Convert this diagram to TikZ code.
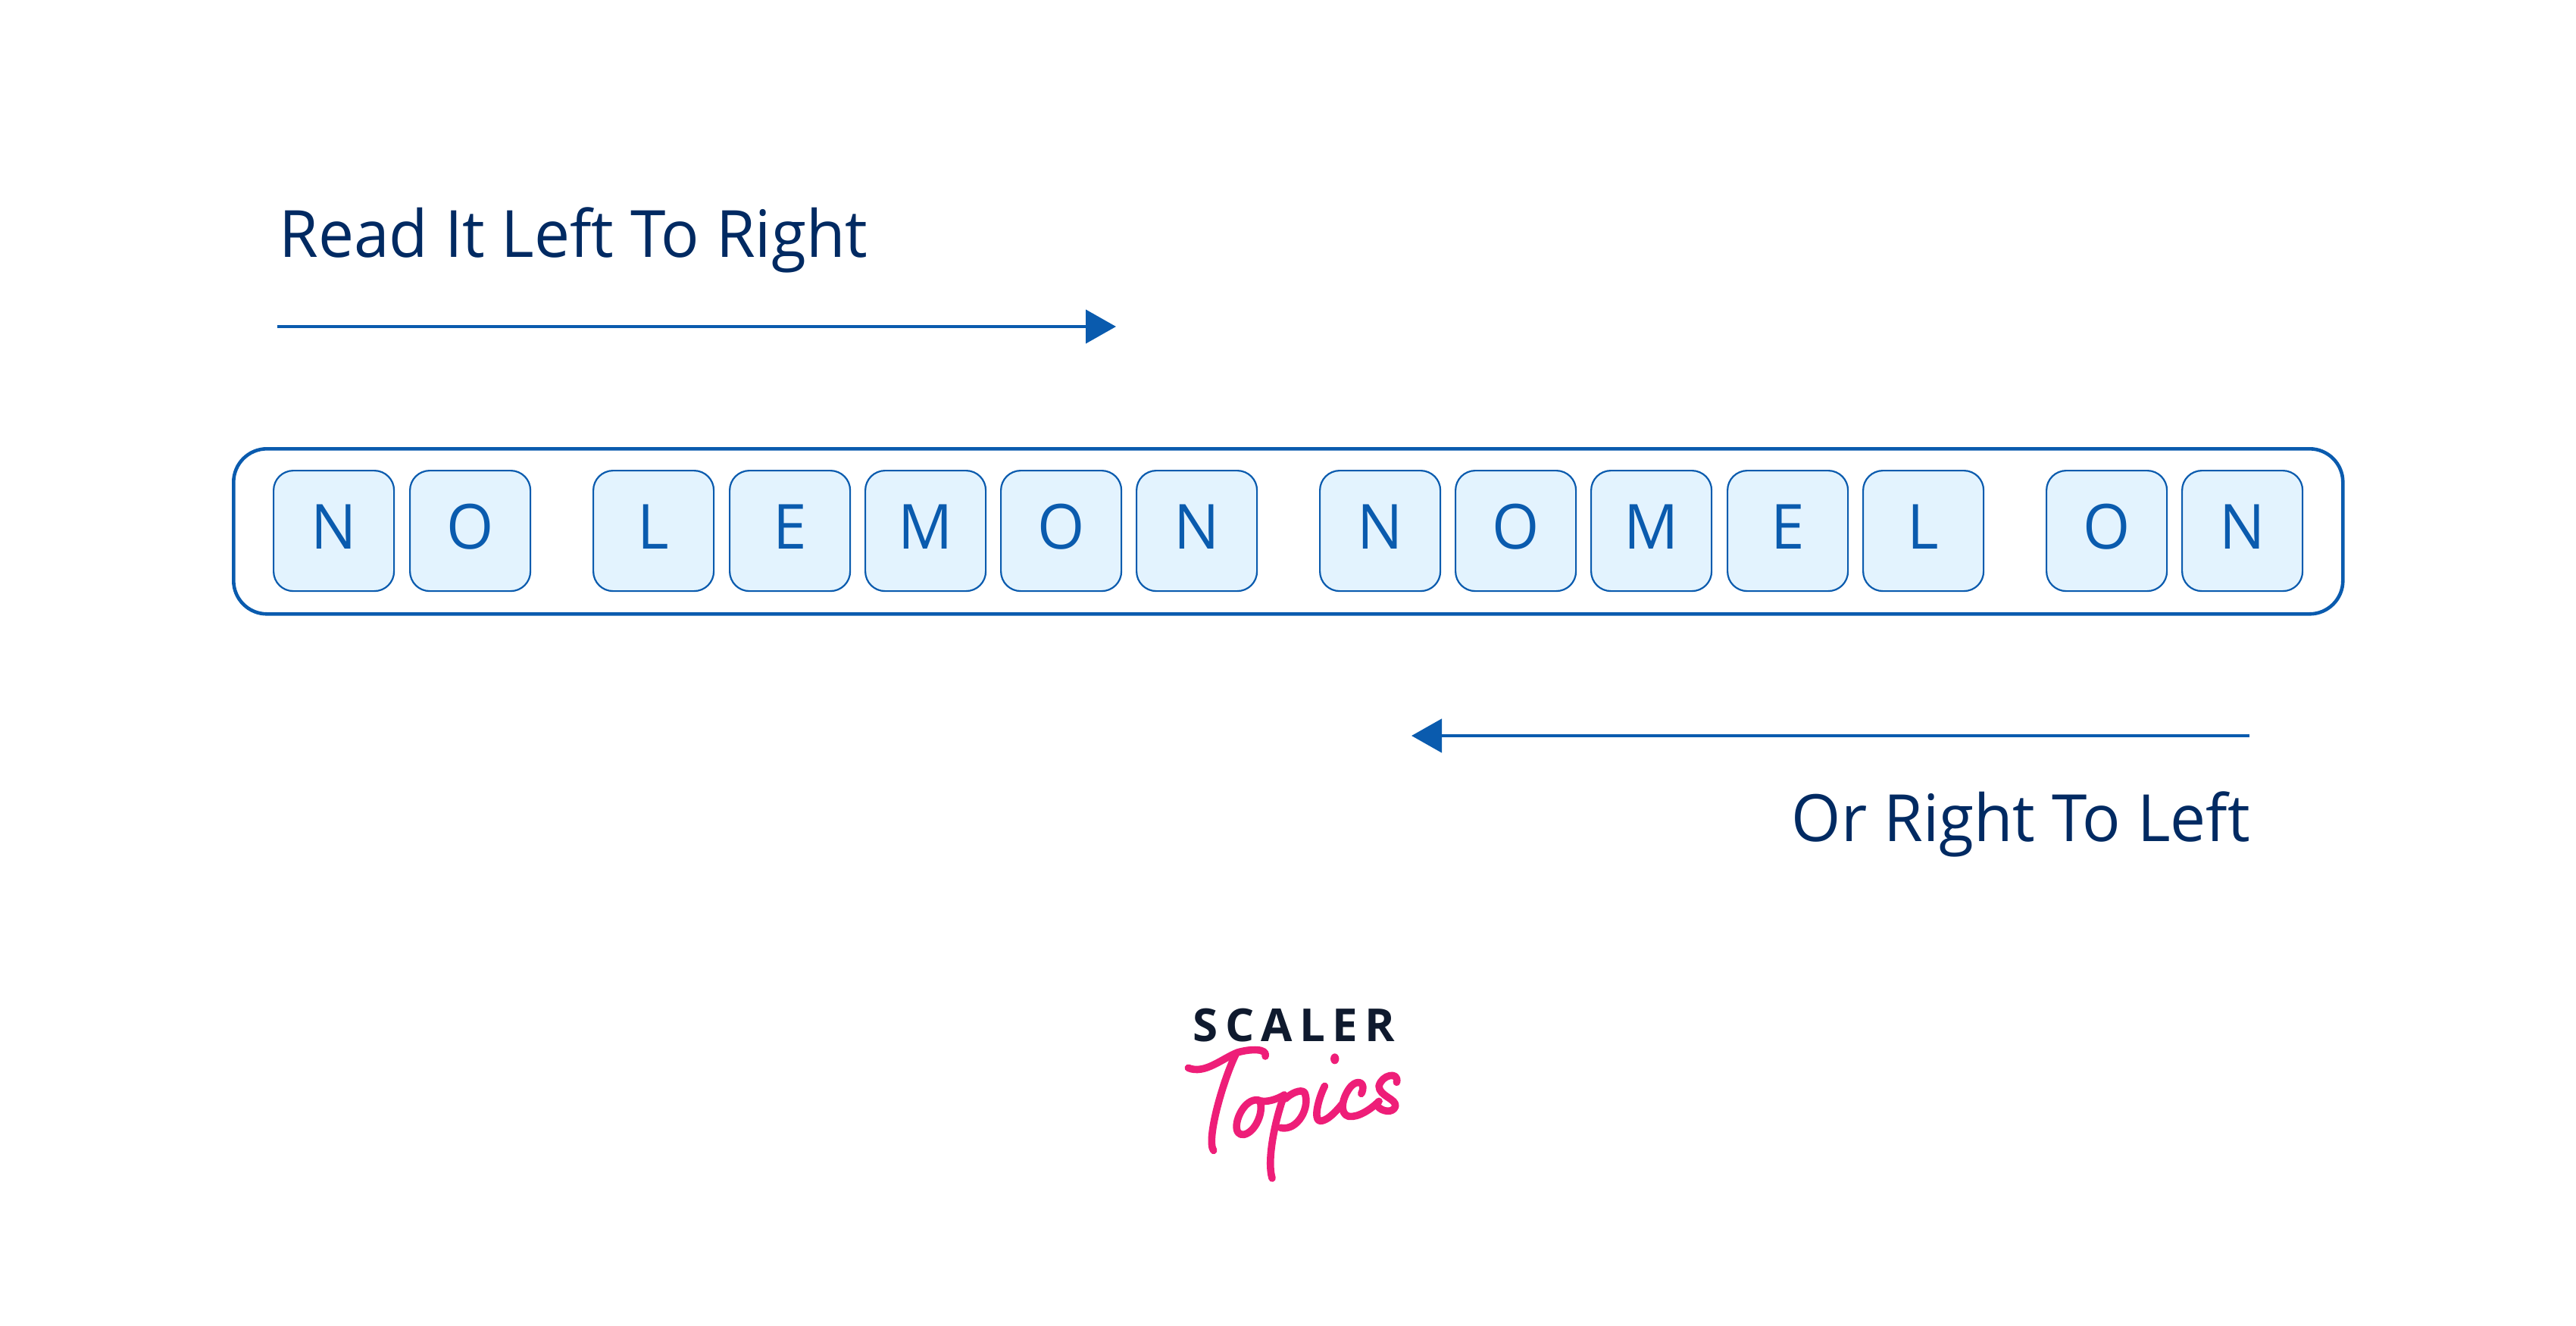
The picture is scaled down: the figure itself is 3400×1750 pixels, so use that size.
\documentclass[tikz,border=0pt]{standalone}
\usepackage{fontspec}
\usetikzlibrary{arrows.meta}
\setmainfont{Open Sans}
\newfontfamily\labelfont[FakeStretch=0.975]{Open Sans}
\newfontfamily\logofont{Open Sans}
\definecolor{scblue}{HTML}{0A5BAE}
\definecolor{scnavy}{HTML}{012A62}
\definecolor{sclight}{HTML}{E3F3FE}
\definecolor{scdark}{HTML}{0F1A2E}
\definecolor{scpink}{HTML}{EE1E78}
\tikzset{
  letterbox/.style={draw=scblue,line width=1.1pt,fill=sclight,rounded corners=13pt,
    minimum width=79.5pt,minimum height=79.5pt,inner sep=0pt,text=scblue,
    font=\labelfont\fontsize{41}{41}\selectfont,text height=29pt,text depth=5pt,anchor=north west},
  framebox/.style={draw=scblue,line width=2.3pt,rounded corners=22pt,fill=white},
  headline/.style={text=scnavy,font=\labelfont\fontsize{43}{43}\selectfont,inner sep=0pt},
  dirarrow/.style={draw=scblue,line width=2.3pt,-{Triangle[length=20pt,width=22pt,fill=scblue]}},
  logostroke/.style={draw=scpink,line width=4.8pt,line cap=round,line join=round}
}
\begin{document}
\begin{tikzpicture}[x=0.5pt,y=-0.5pt]
\useasboundingbox (0,0) rectangle (3400,1750);
\fill[white] (0,0) rectangle (3400,1750);
\node[framebox,minimum width=1392pt,minimum height=109pt,anchor=north west,inner sep=0pt] (frame) at (306,590) {};
\foreach \nm/\xx/\ch in {a/360/N,b/540/O,c/782/L,d/962/E,e/1141/M,f/1320/O,g/1499/N,h/1741/N,i/1920/O,j/2099/M,k/2279/E,l/2458/L,m/2700/O,n/2879/N}
  \node[letterbox] (\nm) at (\xx,620) {\ch};
\node[headline,anchor=base west] (readlr) at (368,339) {Read It Left To Right};
\coordinate (a1) at (366,431);
\coordinate (a2) at (1473,431);
\draw[dirarrow] (a1) -- (a2);
\coordinate (b1) at (2969,971);
\coordinate (b2) at (1863,971);
\draw[dirarrow] (b1) -- (b2);
\node[headline,anchor=base east] (readrl) at (2970,1110) {Or Right To Left};
\node[inner sep=0pt,anchor=base,text=scdark,font=\logofont\bfseries\fontsize{30}{30}\selectfont] (scaler) at (1708,1374) {S\kern4.7pt C\kern4.7pt A\kern4.7pt L\kern4.7pt E\kern4.7pt R};
\begin{scope}[shift={(1500,1290)},x=0.1667pt,y=-0.1667pt]
 \draw[logostroke] (205,358) .. controls (270,385) and (340,320) .. (400,297) .. controls (450,282) and (520,280) .. (510,312);
 \draw[logostroke] (395,300) .. controls (345,400) and (275,640) .. (305,685);
 \draw[logostroke] (480,485) .. controls (430,480) and (390,560) .. (397,600) .. controls (405,645) and (470,620) .. (490,540) .. controls (497,505) and (490,485) .. (480,485) .. controls (510,500) and (560,480) .. (585,465);
 \draw[logostroke] (585,465) .. controls (550,560) and (515,720) .. (537,795);
 \draw[logostroke] (570,595) .. controls (640,610) and (690,510) .. (665,455) .. controls (650,440) and (610,460) .. (590,480);
 \draw[logostroke] (745,430) .. controls (720,480) and (700,560) .. (725,568) .. controls (755,570) and (790,530) .. (815,500);
 \draw[logostroke] (890,460) .. controls (910,420) and (880,400) .. (850,430) .. controls (815,470) and (800,540) .. (840,550) .. controls (880,555) and (930,520) .. (960,490);
 \draw[logostroke] (1030,415) .. controls (1040,370) and (970,385) .. (960,430) .. controls (960,470) and (1030,480) .. (1025,510) .. controls (1015,540) and (970,530) .. (955,510);
 \fill[scpink] (785,322) ellipse [x radius=17,y radius=21];
\end{scope}
\end{tikzpicture}
\end{document}
